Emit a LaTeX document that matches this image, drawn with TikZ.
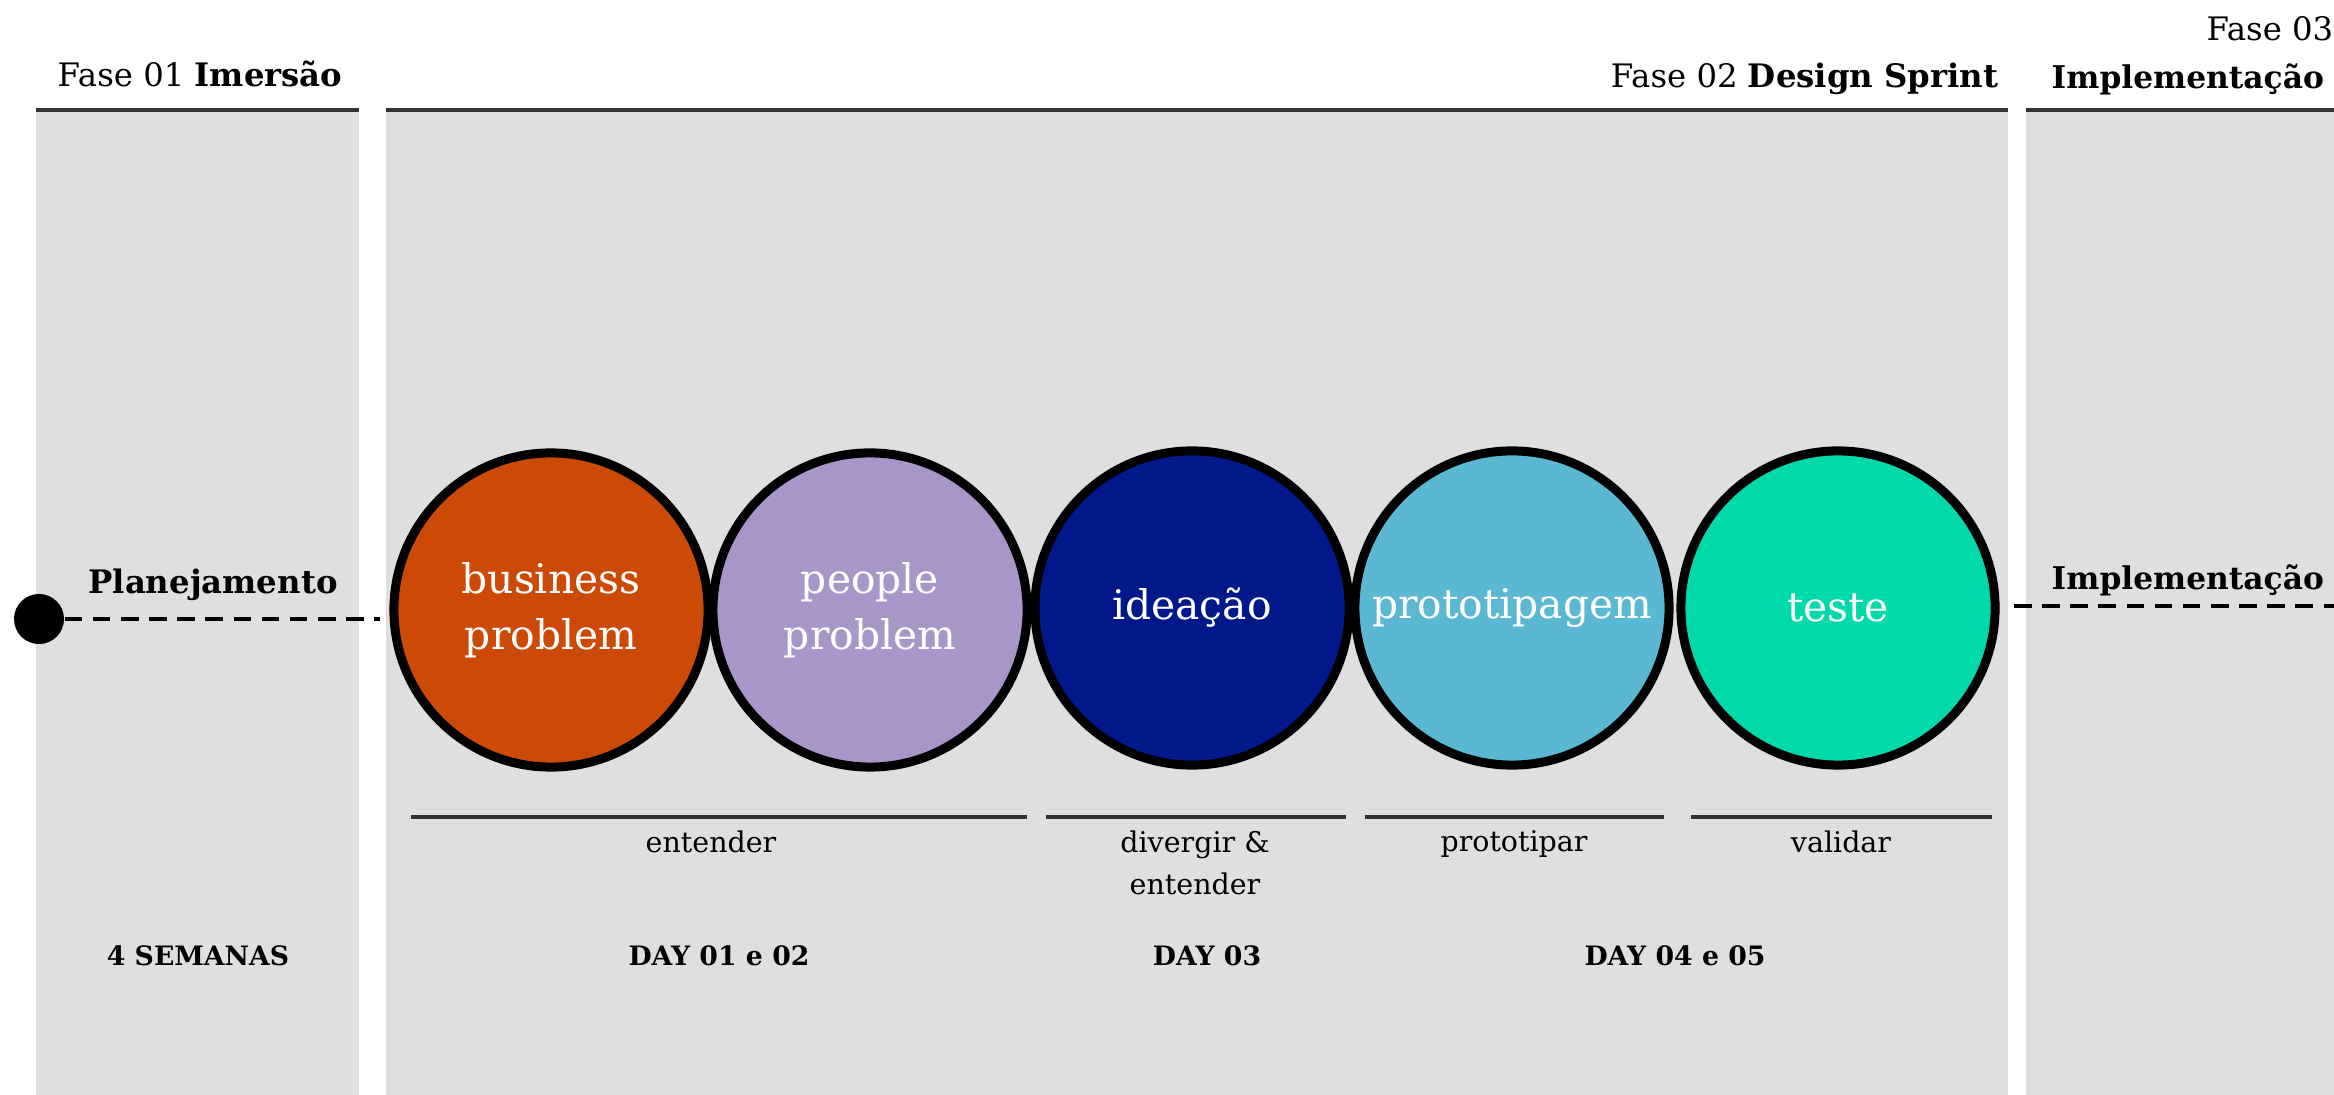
\documentclass[tikz,border=0pt]{standalone}
\usepackage{fontspec}
\setmainfont{DejaVu Serif}
\begin{document}
\begin{tikzpicture}[x=0.01cm,y=-0.01cm,
  panel/.style={fill=panelgray},
  topline/.style={draw=linegray,line width=0.9pt},
  stage/.style={circle,draw=black,line width=0.09cm,minimum size=3.14cm,inner sep=0pt,align=center,text=white,font=\fontsize{11.6}{15.8}\selectfont},
  header/.style={inner sep=0pt,font=\fontsize{9.2}{11}\selectfont},
  bold/.style={inner sep=0pt,font=\fontsize{9.2}{11}\selectfont\bfseries},
  boldnarrow/.style={inner sep=0pt,font=\fontsize{8.9}{11}\selectfont\bfseries},
  small/.style={inner sep=0pt,align=center,font=\fontsize{8.1}{11.9}\selectfont},
  day/.style={inner sep=0pt,font=\fontsize{7.6}{9}\selectfont\bfseries},
  span/.style={draw=linegray,line width=0.9pt},
  flow/.style={draw=black,line width=1.3pt,dash pattern=on 5pt off 3pt}
]
\definecolor{panelgray}{HTML}{DFDFDF}
\definecolor{linegray}{HTML}{333333}
\definecolor{cbusiness}{HTML}{CC4A06}
\definecolor{cpeople}{HTML}{A896C8}
\definecolor{cideacao}{HTML}{00188A}
\definecolor{cproto}{HTML}{5BB8D3}
\definecolor{cteste}{HTML}{00D9A9}
\useasboundingbox (0,0) rectangle (2334,1095);

% panels
\fill[panel] (36,110) rectangle (359,1095);
\fill[panel] (386,110) rectangle (2008,1095);
\fill[panel] (2026,110) rectangle (2334,1095);
\draw[topline] (36,110) -- (359,110);
\draw[topline] (386,110) -- (2008,110);
\draw[topline] (2026,110) -- (2334,110);

% headers
\node[header,anchor=west] (h1) at (57,74) {Fase 01 \textbf{Imersão}};
\node[header,anchor=east] (h2) at (1999,79) {Fase 02 \textbf{Design Sprint}};
\node[header,anchor=east] (h3a) at (2334,29) {Fase 03};
\node[boldnarrow,anchor=west] (h3b) at (2051,79) {Implementação};

% circles
\node[stage,fill=cbusiness] (business) at (551,610) {business\\problem};
\node[stage,fill=cpeople] (people) at (870,610) {people\\problem};
\node[stage,fill=cideacao] (ideacao) at (1192,608) {ideação};
\node[stage,fill=cproto] (proto) at (1512,608) {prototipagem};
\node[stage,fill=cteste] (teste) at (1838,608) {teste};

% left flow
\node[circle,fill=black,minimum size=0.5cm,inner sep=0pt] (dot) at (39,619) {};
\coordinate (planend) at (380,619);
\draw[flow] (dot.east) -- (planend);
\node[bold] (plan) at (213,585) {Planejamento};

% right flow
\coordinate (implstart) at (2014,606);
\coordinate (implend) at (2334,606);
\draw[flow] (implstart) -- (implend);
\node[boldnarrow,anchor=west] (impl) at (2051,580) {Implementação};

% spans
\coordinate (s1a) at (411,817); \coordinate (s1b) at (1027,817);
\coordinate (s2a) at (1046,817); \coordinate (s2b) at (1346,817);
\coordinate (s3a) at (1365,817); \coordinate (s3b) at (1664,817);
\coordinate (s4a) at (1691,817); \coordinate (s4b) at (1992,817);
\draw[span] (s1a) -- (s1b);
\draw[span] (s2a) -- (s2b);
\draw[span] (s3a) -- (s3b);
\draw[span] (s4a) -- (s4b);

\node[small,anchor=north] (l1) at (711,830) {entender};
\node[small,anchor=north] (l2) at (1195,830) {divergir \&\\entender};
\node[small,anchor=north] (l3) at (1514,830) {prototipar};
\node[small,anchor=north] (l4) at (1841,830) {validar};

\node[day] (d0) at (198,956) {4 SEMANAS};
\node[day] (d1) at (719,956) {DAY 01 e 02};
\node[day] (d2) at (1207,956) {DAY 03};
\node[day] (d3) at (1675,956) {DAY 04 e 05};
\end{tikzpicture}
\end{document}
